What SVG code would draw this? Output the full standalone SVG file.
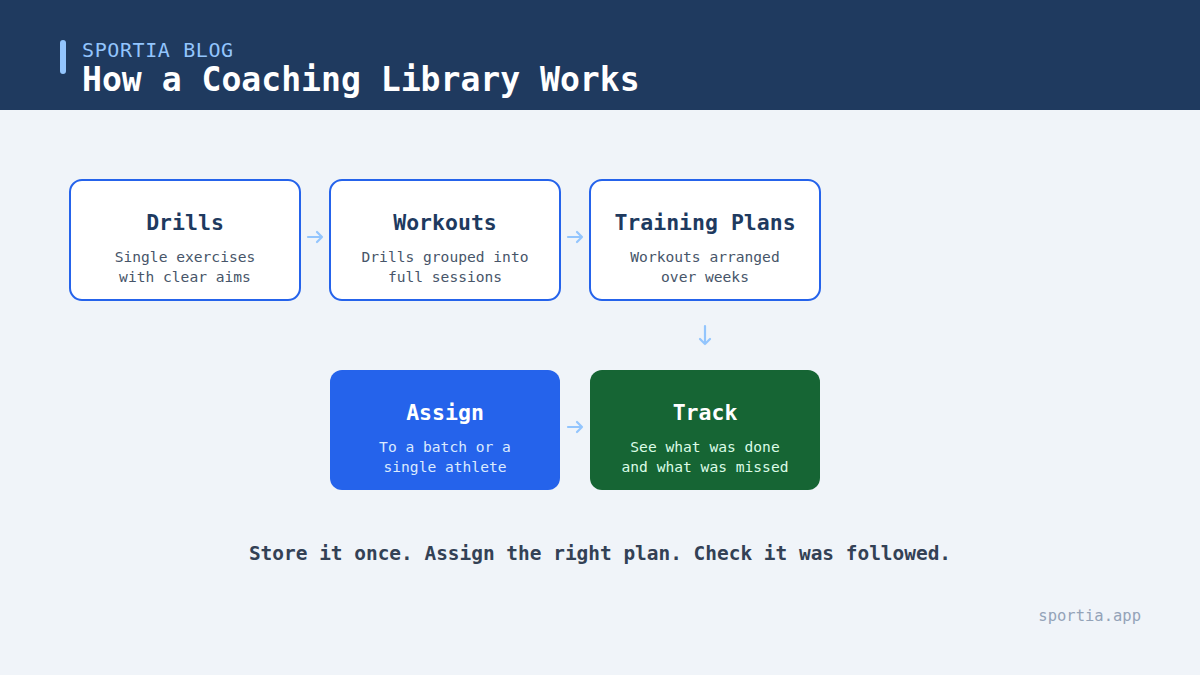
<svg xmlns="http://www.w3.org/2000/svg" width="1200" height="675" viewBox="0 0 1200 675">
<style>
text{font-family:"DejaVu Sans Mono","Liberation Mono",monospace}
.box{fill:#ffffff;stroke:#2563eb;stroke-width:2}
.t{font-size:21.5px;font-weight:bold;fill:#1e3a5f;text-anchor:middle}
.d{font-size:14.6px;fill:#475569;text-anchor:middle}
.tw{font-size:21.5px;font-weight:bold;fill:#ffffff;text-anchor:middle}
.conn{fill:none;stroke:#93c5fd;stroke-width:2.2;stroke-linecap:round;stroke-linejoin:round}
</style>
<rect width="1200" height="675" fill="#f0f4f9"/>
<g id="header">
<rect width="1200" height="110" fill="#1f3a5f"/>
<rect x="60" y="40" width="6" height="34" rx="3" fill="#93c5fd"/>
<text x="82" y="57" font-size="20" letter-spacing="0.6" fill="#93c5fd">SPORTIA BLOG</text>
<text x="82" y="91" font-size="33.1" font-weight="bold" fill="#ffffff">How a Coaching Library Works</text>
</g>
<g id="connectors">
<path class="conn" d="M308 237H322M317 232L322 237L317 242"/>
<path class="conn" d="M568 237H582M577 232L582 237L577 242"/>
<path class="conn" d="M705 326V344M700 339L705 344L710 339"/>
<path class="conn" d="M568 427H582M577 422L582 427L577 432"/>
</g>
<g id="drills">
<rect class="box" x="70" y="180" width="230" height="120" rx="12"/>
<text class="t" x="185" y="230">Drills</text>
<text class="d" x="185" y="262">Single exercises</text>
<text class="d" x="185" y="282">with clear aims</text>
</g>
<g id="workouts">
<rect class="box" x="330" y="180" width="230" height="120" rx="12"/>
<text class="t" x="445" y="230">Workouts</text>
<text class="d" x="445" y="262">Drills grouped into</text>
<text class="d" x="445" y="282">full sessions</text>
</g>
<g id="training-plans">
<rect class="box" x="590" y="180" width="230" height="120" rx="12"/>
<text class="t" x="705" y="230">Training Plans</text>
<text class="d" x="705" y="262">Workouts arranged</text>
<text class="d" x="705" y="282">over weeks</text>
</g>
<g id="assign">
<rect x="330" y="370" width="230" height="120" rx="12" fill="#2563eb"/>
<text class="tw" x="445" y="420">Assign</text>
<text class="d" x="445" y="452" style="fill:#dbeafe">To a batch or a</text>
<text class="d" x="445" y="472" style="fill:#dbeafe">single athlete</text>
</g>
<g id="track">
<rect x="590" y="370" width="230" height="120" rx="12" fill="#166534"/>
<text class="tw" x="705" y="420">Track</text>
<text class="d" x="705" y="452" style="fill:#dcfce7">See what was done</text>
<text class="d" x="705" y="472" style="fill:#dcfce7">and what was missed</text>
</g>
<g id="footer">
<text x="600" y="560" font-size="19.45" font-weight="bold" fill="#334155" text-anchor="middle">Store it once. Assign the right plan. Check it was followed.</text>
<text x="1141" y="621" font-size="15.5" fill="#94a3b8" text-anchor="end">sportia.app</text>
</g>
</svg>
